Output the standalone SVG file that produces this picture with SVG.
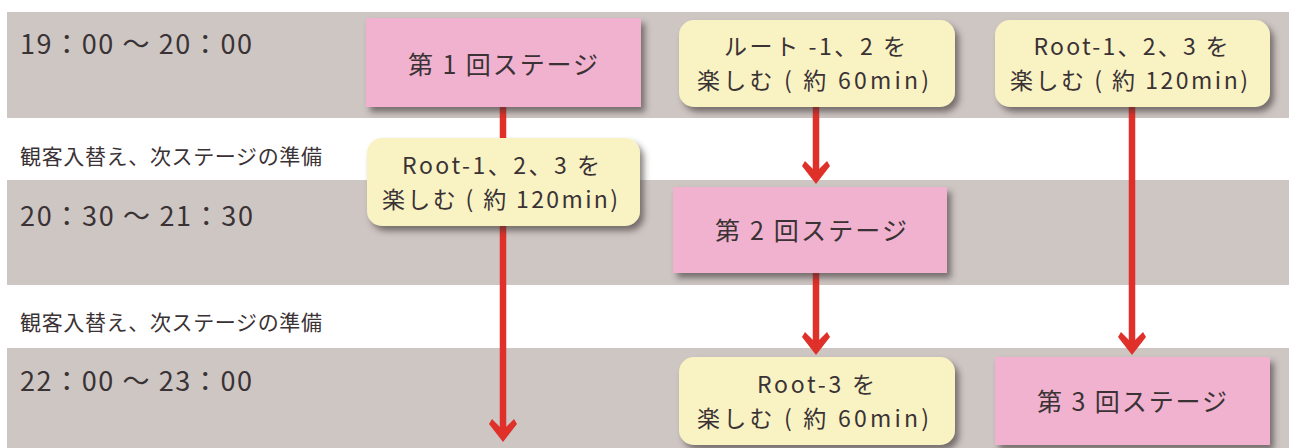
<svg xmlns="http://www.w3.org/2000/svg" width="1293" height="448" viewBox="0 0 1293 448">
  <style>
    text { font-family: "Noto Sans CJK JP", "Noto Sans", sans-serif; fill: #3a3234; }
    .band { fill: #cdc6c3; }
    .time { font-size: 27px; }
    .note { font-size: 21px; }
    .stage rect { fill: #f0b2cf; filter: url(#sh); }
    .route rect { fill: #f9f3c4; filter: url(#sh); }
    .stage text { font-size: 25px; text-anchor: middle; }
    .route text { font-size: 23px; text-anchor: middle; }
    .conn line { stroke: #e0302a; stroke-width: 6.5; marker-end: url(#ah); }
  </style>
  <defs>
    <filter id="sh" x="-10%" y="-15%" width="125%" height="145%">
      <feDropShadow dx="4" dy="5" stdDeviation="3" flood-color="#3a3030" flood-opacity="0.6"/>
    </filter>
    <marker id="ah" markerUnits="userSpaceOnUse" markerWidth="40" markerHeight="40" viewBox="-20 -20 40 40" refX="0" refY="0" orient="auto" overflow="visible">
      <path d="M8,0 L-10,-14 L-15,-11 L-4,0 L-15,11 L-10,14 Z" fill="#e0302a"/>
    </marker>
  </defs>
  <rect width="1293" height="448" fill="#ffffff"/>
  <g id="bands">
    <rect class="band" x="7" y="12" width="1282" height="106"/>
    <rect class="band" x="7" y="180" width="1282" height="105"/>
    <rect class="band" x="7" y="348" width="1282" height="100"/>
  </g>
  <g id="labels">
    <text class="time" x="20" y="54" textLength="232" lengthAdjust="spacing">19：00 ～ 20：00</text>
    <text class="note" x="20" y="164" textLength="302" lengthAdjust="spacing">観客入替え、次ステージの準備</text>
    <text class="time" x="20" y="226" textLength="233" lengthAdjust="spacing">20：30 ～ 21：30</text>
    <text class="note" x="20" y="330" textLength="302" lengthAdjust="spacing">観客入替え、次ステージの準備</text>
    <text class="time" x="20" y="391" textLength="232" lengthAdjust="spacing">22：00 ～ 23：00</text>
  </g>
  <g id="connectors" class="conn">
    <line x1="503" y1="100" x2="503" y2="434"/>
    <line x1="816" y1="100" x2="816" y2="176"/>
    <line x1="816" y1="265" x2="816" y2="347"/>
    <line x1="1132" y1="100" x2="1132" y2="347"/>
  </g>
  <g id="stage1" class="stage">
    <rect x="366" y="18" width="275" height="89"/>
    <text x="503" y="74" textLength="190" lengthAdjust="spacing">第 1 回ステージ</text>
  </g>
  <g id="routeA" class="route">
    <rect x="679" y="20" width="276" height="87" rx="15"/>
    <text><tspan x="815" y="55" textLength="182" lengthAdjust="spacing">ルート -1、2 を</tspan><tspan x="813" y="89" textLength="232" lengthAdjust="spacing">楽しむ ( 約 60min)</tspan></text>
  </g>
  <g id="routeB" class="route">
    <rect x="995" y="20" width="275" height="87" rx="15"/>
    <text><tspan x="1131" y="55" textLength="195" lengthAdjust="spacing">Root-1、2、3 を</tspan><tspan x="1129" y="89" textLength="238" lengthAdjust="spacing">楽しむ ( 約 120min)</tspan></text>
  </g>
  <g id="routeC" class="route">
    <rect x="367" y="138" width="273" height="88" rx="15"/>
    <text><tspan x="501" y="174" textLength="198" lengthAdjust="spacing">Root-1、2、3 を</tspan><tspan x="500" y="208" textLength="236" lengthAdjust="spacing">楽しむ ( 約 120min)</tspan></text>
  </g>
  <g id="stage2" class="stage">
    <rect x="673" y="187" width="274" height="86"/>
    <text x="811" y="240" textLength="192" lengthAdjust="spacing">第 2 回ステージ</text>
  </g>
  <g id="routeD" class="route">
    <rect x="679" y="357" width="276" height="88" rx="15"/>
    <text><tspan x="816" y="393" textLength="118" lengthAdjust="spacing">Root-3 を</tspan><tspan x="813" y="427" textLength="232" lengthAdjust="spacing">楽しむ ( 約 60min)</tspan></text>
  </g>
  <g id="stage3" class="stage">
    <rect x="995" y="357" width="275" height="88"/>
    <text x="1132" y="411" textLength="190" lengthAdjust="spacing">第 3 回ステージ</text>
  </g>
</svg>
